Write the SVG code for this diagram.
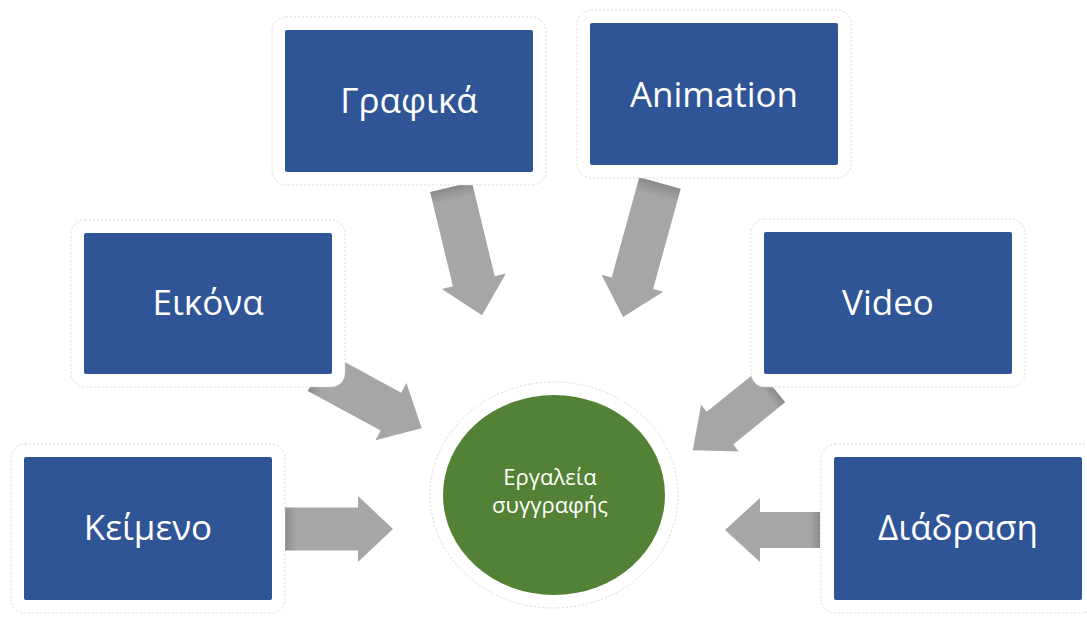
<svg xmlns="http://www.w3.org/2000/svg" width="1087" height="617" viewBox="0 0 1087 617">
  <defs>
    <style>
      .frame { fill: #ffffff; stroke: #d9d9d9; stroke-width: 1; stroke-dasharray: 2 2; }
      .box { fill: #2f5597; }
      .lbl { fill: #ffffff; font-family: "Open Sans", "Noto Sans", "DejaVu Sans", sans-serif; font-size: 35px; text-anchor: middle; }
      .clbl { fill: #ffffff; font-family: "Open Sans", "Noto Sans", "DejaVu Sans", sans-serif; font-size: 22px; text-anchor: middle; }
      .arrow { fill: url(#arrowGrad); }
    </style>
    <linearGradient id="arrowGrad" x1="0" y1="0" x2="1" y2="0">
      <stop offset="0" stop-color="#8a8a8a"/>
      <stop offset="0.1" stop-color="#a6a6a6"/>
      <stop offset="1" stop-color="#a6a6a6"/>
    </linearGradient>
  </defs>
  <rect width="1087" height="617" fill="#ffffff"/>

  <g id="connectors">
    <!-- Κείμενο → center -->
    <polygon class="arrow" transform="translate(285,529)" points="0,-21.5 73,-21.5 73,-33 108,0 73,33 73,21.5 0,21.5"/>
    <!-- Διάδραση → center -->
    <polygon class="arrow" transform="translate(820,530) rotate(180)" points="0,-18 60,-18 60,-32 95,0 60,32 60,18 0,18"/>
    <!-- Γραφικά → center -->
    <polygon class="arrow" transform="translate(451,187) rotate(76.4)" points="0,-21.5 97,-21.5 97,-33 132,0 97,33 97,21.5 0,21.5"/>
    <!-- Animation → center -->
    <polygon class="arrow" transform="translate(660,183) rotate(105.4)" points="0,-21.5 104,-21.5 104,-32 139,0 104,32 104,21.5 0,21.5"/>
    <!-- Εικόνα → center -->
    <polygon class="arrow" transform="translate(318,372) rotate(28.5)" points="0,-21.5 83,-21.5 83,-32.5 118,0 83,32.5 83,21.5 0,21.5"/>
    <!-- Video → center -->
    <polygon class="arrow" transform="translate(772,386) rotate(141)" points="0,-21 67,-21 67,-30 102,0 67,30 67,21 0,21"/>
  </g>

  <g id="node-grafika">
    <rect class="frame" x="272" y="17" width="274" height="168" rx="14"/>
    <rect class="box" x="285" y="30" width="248" height="142" rx="2"/>
    <text class="lbl" x="409" y="113">Γραφικά</text>
  </g>
  <g id="node-animation">
    <rect class="frame" x="577" y="10" width="274" height="168" rx="14"/>
    <rect class="box" x="590" y="23" width="248" height="142" rx="2"/>
    <text class="lbl" x="714" y="107">Animation</text>
  </g>
  <g id="node-eikona">
    <rect class="frame" x="71" y="220" width="274" height="167" rx="14"/>
    <rect class="box" x="84" y="233" width="248" height="141" rx="2"/>
    <text class="lbl" x="208" y="315">Εικόνα</text>
  </g>
  <g id="node-video">
    <rect class="frame" x="751" y="219" width="274" height="168" rx="14"/>
    <rect class="box" x="764" y="232" width="248" height="142" rx="2"/>
    <text class="lbl" x="888" y="315">Video</text>
  </g>
  <g id="node-keimeno">
    <rect class="frame" x="11" y="444" width="274" height="169" rx="14"/>
    <rect class="box" x="24" y="457" width="248" height="143" rx="2"/>
    <text class="lbl" x="148" y="540">Κείμενο</text>
  </g>
  <g id="node-diadrasi">
    <rect class="frame" x="821" y="444" width="274" height="169" rx="14"/>
    <rect class="box" x="834" y="457" width="248" height="143" rx="2"/>
    <text class="lbl" x="958" y="540">Διάδραση</text>
  </g>
  <g id="node-center">
    <ellipse class="frame" cx="554" cy="495" rx="124" ry="113"/>
    <ellipse cx="554" cy="495" rx="111" ry="100" fill="#538135"/>
    <text class="clbl" x="550" y="485">Εργαλεία</text>
    <text class="clbl" x="550" y="513">συγγραφής</text>
  </g>
</svg>
